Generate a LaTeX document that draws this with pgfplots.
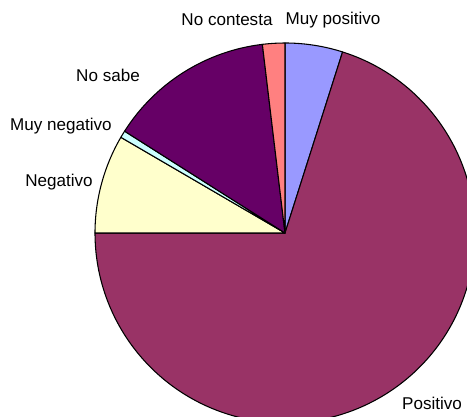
\documentclass[border=0pt]{standalone}
\usepackage{pgfplots}
\pgfplotsset{compat=1.18}
\usepackage{fontspec}
\setmainfont{Liberation Sans}
\definecolor{mp}{HTML}{9999FF}
\definecolor{po}{HTML}{993366}
\definecolor{ne}{HTML}{FFFFCC}
\definecolor{mn}{HTML}{CCFFFF}
\definecolor{ns}{HTML}{660066}
\definecolor{nc}{HTML}{FF8080}
\begin{document}
\begin{tikzpicture}
\begin{axis}[scale only axis, width=350.25pt, height=312.75pt,
  xmin=0, xmax=467, ymin=-417, ymax=0, hide axis, clip=true]
\pgfplotsextra{
  \xdef\cum{0}
  \foreach \v/\c in {4.9/mp, 70.1/po, 8.4/ne, 0.6/mn, 14.1/ns, 1.9/nc} {
    \pgfmathsetmacro\a{90-3.6*\cum}
    \pgfmathsetmacro\b{90-3.6*(\cum+\v)}
    \draw[black, line width=0.8pt, line join=round, fill=\c] (axis cs:285,-233) -- ++(\a:142.5pt) arc[start angle=\a, end angle=\b, radius=142.5pt] -- cycle;
    \pgfmathsetmacro\cumn{\cum+\v}
    \xdef\cum{\cumn}
  }
}
\begin{scope}[every node/.style={font=\fontsize{12.8}{15}\selectfont, inner sep=0pt}]
\node at (axis cs:333,-20) {Muy positivo};
\node at (axis cs:227,-20) {No contesta};
\node at (axis cs:108,-75) {No sabe};
\node at (axis cs:61,-126) {Muy negativo};
\node at (axis cs:59,-182) {Negativo};
\node at (axis cs:432,-403) {Positivo};
\end{scope}
\end{axis}
\path (0,0) rectangle (350.25pt,312.75pt);
\end{tikzpicture}
\end{document}
